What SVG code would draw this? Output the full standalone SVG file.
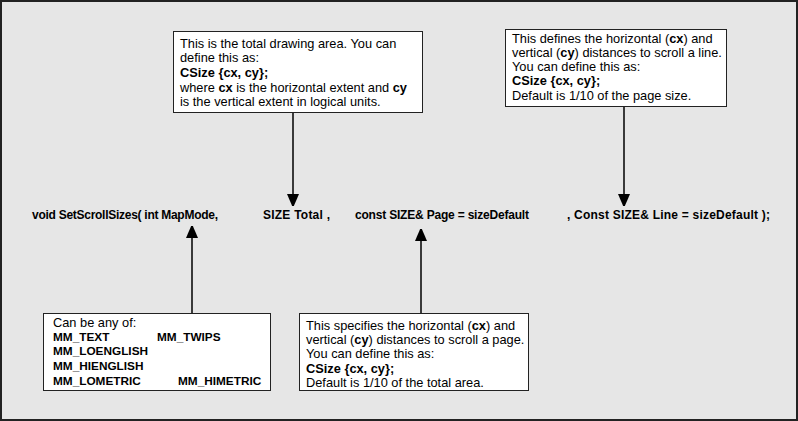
<svg xmlns="http://www.w3.org/2000/svg" width="798" height="421" viewBox="0 0 798 421">
<defs>
<style>
.bg{fill:#e6e6e6;stroke:#222;stroke-width:2}
.box{fill:#fff;stroke:#222;stroke-width:1}
.t{font-family:"Liberation Sans",Arial,sans-serif;font-size:12.8px;fill:#000}
.b{font-weight:bold}
.m{font-family:"Liberation Sans",Arial,sans-serif;font-size:11.8px;font-weight:bold;fill:#000}
.f{font-family:"Liberation Sans",Arial,sans-serif;font-size:12px;font-weight:bold;fill:#000}
.ln{stroke:#000;stroke-width:1.5;fill:none}
</style>
<marker id="ah" viewBox="0 0 12 14" refX="12" refY="6" markerWidth="12" markerHeight="14" markerUnits="userSpaceOnUse" orient="auto">
<path d="M0,0 L14,6 L0,12 Z" fill="#000"/>
</marker>
</defs>
<rect class="bg" x="1" y="1" width="796" height="419"/>

<g id="signature">
<text class="f" x="32" y="219" textLength="186" lengthAdjust="spacing">void SetScrollSizes( int MapMode,</text>
<text class="f" x="263" y="219" textLength="67" lengthAdjust="spacing">SIZE Total ,</text>
<text class="f" x="355" y="219" textLength="174" lengthAdjust="spacing">const SIZE&amp; Page = sizeDefault</text>
<text class="f" x="567" y="219" textLength="203" lengthAdjust="spacing">, Const SIZE&amp; Line = sizeDefault );</text>
</g>

<g id="connectors">
<line class="ln" x1="293" y1="113" x2="293" y2="206" marker-end="url(#ah)"/>
<line class="ln" x1="624" y1="107" x2="624" y2="206" marker-end="url(#ah)"/>
<line class="ln" x1="192" y1="313" x2="192" y2="226" marker-end="url(#ah)"/>
<line class="ln" x1="421" y1="313" x2="421" y2="229" marker-end="url(#ah)"/>
</g>

<g id="total-note">
<rect class="box" x="173.5" y="31.5" width="249" height="81"/>
<text class="t" x="180" y="48">This is the total drawing area. You can</text>
<text class="t" x="180" y="62">define this as:</text>
<text class="t b" x="180" y="77">CSize {cx, cy};</text>
<text class="t" x="180" y="92">where <tspan class="b">cx</tspan> is the horizontal extent and <tspan class="b">cy</tspan></text>
<text class="t" x="180" y="106">is the vertical extent in logical units.</text>
</g>

<g id="line-note">
<rect class="box" x="505.5" y="29.5" width="221" height="77"/>
<text class="t" x="512" y="43">This defines the horizontal (<tspan class="b">cx</tspan>) and</text>
<text class="t" x="512" y="57">vertical (<tspan class="b">cy</tspan>) distances to scroll a line.</text>
<text class="t" x="512" y="71">You can define this as:</text>
<text class="t b" x="512" y="85">CSize {cx, cy};</text>
<text class="t" x="512" y="100">Default is 1/10 of the page size.</text>
</g>

<g id="mapmode-note">
<rect class="box" x="43.5" y="313.5" width="227" height="77"/>
<text class="t" x="53" y="327">Can be any of:</text>
<text class="m" x="53" y="341">MM_TEXT</text>
<text class="m" x="157" y="341">MM_TWIPS</text>
<text class="m" x="53" y="355">MM_LOENGLISH</text>
<text class="m" x="53" y="370">MM_HIENGLISH</text>
<text class="m" x="53" y="385">MM_LOMETRIC</text>
<text class="m" x="178" y="385">MM_HIMETRIC</text>
</g>

<g id="page-note">
<rect class="box" x="299.5" y="313.5" width="229" height="77"/>
<text class="t" x="306" y="330">This specifies the horizontal (<tspan class="b">cx</tspan>) and</text>
<text class="t" x="306" y="344">vertical (<tspan class="b">cy</tspan>) distances to scroll a page.</text>
<text class="t" x="306" y="358">You can define this as:</text>
<text class="t b" x="306" y="373">CSize {cx, cy};</text>
<text class="t" x="306" y="387">Default is 1/10 of the total area.</text>
</g>
</svg>
